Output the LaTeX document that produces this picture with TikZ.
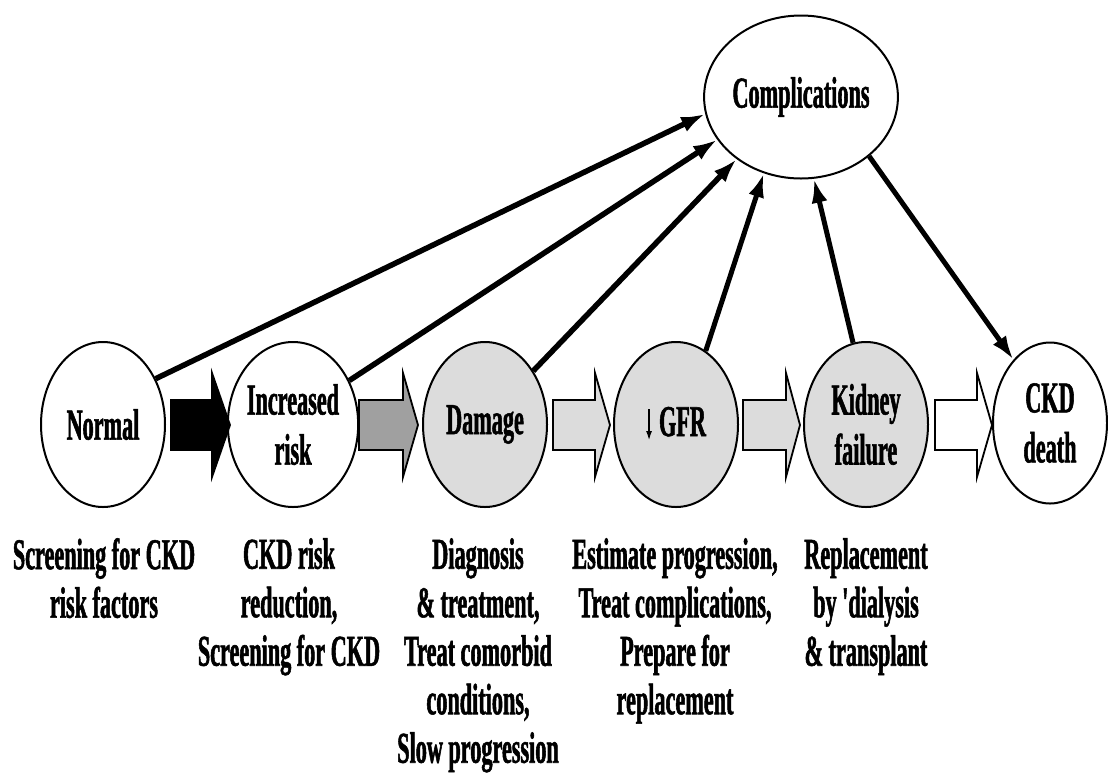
\documentclass[tikz,border=0pt]{standalone}
\usepackage{fontspec}
\newfontfamily\labfont{Liberation Serif}[FakeStretch=0.505,BoldFeatures={FakeBold=1.2}]
\usetikzlibrary{arrows.meta,shapes.geometric}
\newcommand\blockarr[4]{% x0, head start, tip, fill
  \filldraw[line width=1.8pt,fill=#4,line join=miter]
    (#1,400) -- (#2,400) -- (#2,373) -- (#3,425) -- (#2,477) -- (#2,450) -- (#1,450) -- cycle;}
\newcommand\downarr{\raisebox{-6pt}{\tikz\draw[line width=2pt,-{Latex[length=10pt,width=6pt]}] (0pt,0pt) -- (0pt,-32pt);}}
\begin{document}
\begin{tikzpicture}[x=1pt,y=-1pt,
  txt/.style={font=\labfont\bfseries\fontsize{44}{50}\selectfont,align=center},
  stage/.style={txt,ellipse,draw,line width=2pt,minimum width=124pt,minimum height=165pt,inner sep=0pt},
  shaded/.style={fill=lightfill},
  lbl/.style={txt,anchor=north,inner sep=0pt,font=\labfont\bfseries\fontsize{44}{48.5}\selectfont},
  conn/.style={line width=5.5pt,-{Latex[length=24pt,width=16pt]}}]
\definecolor{lightfill}{HTML}{DCDCDC}
\definecolor{midfill}{HTML}{A0A0A0}
\useasboundingbox (0,0) rectangle (1108,772);
% stages
\node[stage] (normal) at (103,424.5) {Normal};
\node[stage] (risk) at (293,424.5) {Increased\\risk};
\node[stage,shaded] (damage) at (485,424.5) {Damage};
\node[stage,shaded] (gfr) at (676,424.5) {\downarr\hspace{7pt}GFR};
\node[stage,shaded] (kidney) at (866,424.5) {Kidney\\failure};
\node[stage,minimum width=114pt,minimum height=161pt] (death) at (1050,423) {CKD\\death};
\node[stage,minimum width=162pt,minimum height=163pt] (comp) at (801,97) {Complications};
% block arrows
\blockarr{171}{212}{230}{black}
\blockarr{359}{403}{418}{midfill}
\blockarr{553}{595}{610}{lightfill}
\blockarr{743}{786}{800}{lightfill}
\blockarr{935}{977}{992}{white}
% connectors
\draw[conn] (normal.41.6) -- (comp.190.9);
\draw[conn] (risk.38.7) -- (comp.207);
\draw[conn] (damage.48) -- (comp.224.5);
\draw[conn,line width=5pt] (gfr.68.6) -- (comp.244.9);
\draw[conn,line width=5pt] (kidney.99.8) -- (comp.279.6);
\draw[conn,line width=5pt] (comp.319.5) -- (death.120.3);
% labels
\node[lbl] (l1) at (104,538) {Screening for CKD\\risk factors};
\node[lbl] (l2) at (289,538) {CKD risk\\reduction,\\Screening for CKD};
\node[lbl] (l3) at (478,538) {Diagnosis\\\& treatment,\\Treat comorbid\\conditions,\\Slow progression};
\node[lbl] (l4) at (675,538) {Estimate progression,\\Treat complications,\\Prepare for\\replacement};
\node[lbl] (l5) at (866,538) {Replacement\\by 'dialysis\\\& transplant};
\end{tikzpicture}
\end{document}
